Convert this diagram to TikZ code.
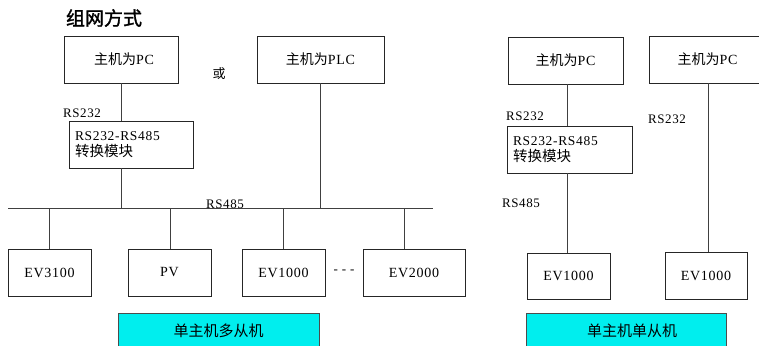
\documentclass[tikz,border=0pt]{standalone}
\usepackage{fontspec}
\setmainfont{Liberation Serif}[LetterSpace=5]
\newfontfamily\cjk{Noto Sans CJK SC}
\newfontfamily\cjktitle{Noto Sans CJK SC}[FakeBold=1.5]
\definecolor{cyanfill}{RGB}{0,238,238}
\tikzset{
  box/.style={draw=black!85, line width=0.8pt, rectangle, inner sep=0pt, font=\fontsize{14}{16}\selectfont},
  convbox/.style={draw=black!85, line width=0.8pt, rectangle, inner sep=6pt, align=left, text width=112pt, minimum height=47pt, font=\fontsize{13.5}{16.5}\selectfont},
  cyanbox/.style={draw=black!70, line width=0.8pt, fill=cyanfill, rectangle, inner sep=0pt, font=\cjk\fontsize{15}{17}\selectfont},
  wire/.style={draw=black!75, line width=0.8pt},
  lbl/.style={inner sep=0pt, font=\fontsize{13}{15}\selectfont},
}
\begin{document}
\begin{tikzpicture}[x=1pt,y=-1pt]
\useasboundingbox (0,0) rectangle (759,345);
\clip (0,0) rectangle (759,345);
\node[inner sep=0pt, font=\cjktitle\fontsize{19}{21}\selectfont] (title) at (104,18) {组网方式};
% left group
\node[box, minimum width=114pt, minimum height=47pt] (pc1) at (121,59.5) {\hspace*{6pt}{\cjk 主机为}PC};
\node[box, minimum width=127pt, minimum height=47pt] (plc) at (320.5,59.5) {{\cjk 主机为}PLC};
\node[lbl, font=\cjk\fontsize{13}{15}\selectfont] (or) at (219,74) {或};
\node[convbox] (conv1) at (131,144.5) {RS232-RS485\\{\cjk\fontsize{14.5}{16.5}\selectfont 转换模块}};
\node[lbl] (l232a) at (82,113) {RS232};
\coordinate (busL) at (8,208);
\coordinate (busR) at (433,208);
\draw[wire] (busL) -- (busR);
\node[lbl, anchor=base] (l485a) at (225,208) {RS485};
\draw[wire] (pc1.south) -- (pc1.south |- conv1.north);
\draw[wire] (pc1.south |- conv1.south) -- (pc1.south |- busL);
\draw[wire] (plc.south) -- (plc.south |- busL);
\node[box, minimum width=83pt, minimum height=47pt] (ev3100) at (49.5,272.5) {EV3100};
\node[box, minimum width=83pt, minimum height=47pt] (pv) at (169.5,272.5) {PV};
\node[box, minimum width=83pt, minimum height=47pt] (ev1000a) at (283.5,272.5) {EV1000};
\node[box, minimum width=102pt, minimum height=47pt] (ev2000) at (414,272.5) {EV2000};
\node[lbl] (dots) at (344,272) {- - -};
\coordinate (d1) at (49,208);
\coordinate (d2) at (170,208);
\coordinate (d3) at (283,208);
\coordinate (d4) at (404,208);
\draw[wire] (d1) -- (d1 |- ev3100.north);
\draw[wire] (d2) -- (d2 |- pv.north);
\draw[wire] (d3) -- (d3 |- ev1000a.north);
\draw[wire] (d4) -- (d4 |- ev2000.north);
\node[cyanbox, minimum width=201pt, minimum height=36pt] (multi) at (218.5,331) {单主机多从机};
% right group
\node[box, minimum width=115pt, minimum height=47pt] (pc2) at (565.5,60.5) {{\cjk 主机为}PC};
\node[box, minimum width=131pt, minimum height=47pt] (pc3) at (714.5,59.5) {\hspace*{-14pt}{\cjk 主机为}PC};
\node[convbox, text width=113pt] (conv2) at (569.5,149.5) {RS232-RS485\\{\cjk\fontsize{14.5}{16.5}\selectfont 转换模块}};
\node[box, minimum width=83pt, minimum height=46pt] (ev1000b) at (568.5,276) {EV1000};
\node[box, minimum width=82pt, minimum height=47pt] (ev1000c) at (706,275.5) {EV1000};
\coordinate (r1) at (567,84);
\coordinate (r2) at (708,83);
\draw[wire] (r1) -- (r1 |- conv2.north);
\draw[wire] (r1 |- conv2.south) -- (r1 |- ev1000b.north);
\draw[wire] (r2) -- (r2 |- ev1000c.north);
\node[lbl] (l232b) at (525,116) {RS232};
\node[lbl] (l485b) at (521,203) {RS485};
\node[lbl] (l232c) at (667,119) {RS232};
\node[cyanbox, minimum width=200pt, minimum height=36pt] (single) at (626,331) {\hspace*{12pt}单主机单从机};
\end{tikzpicture}
\end{document}
